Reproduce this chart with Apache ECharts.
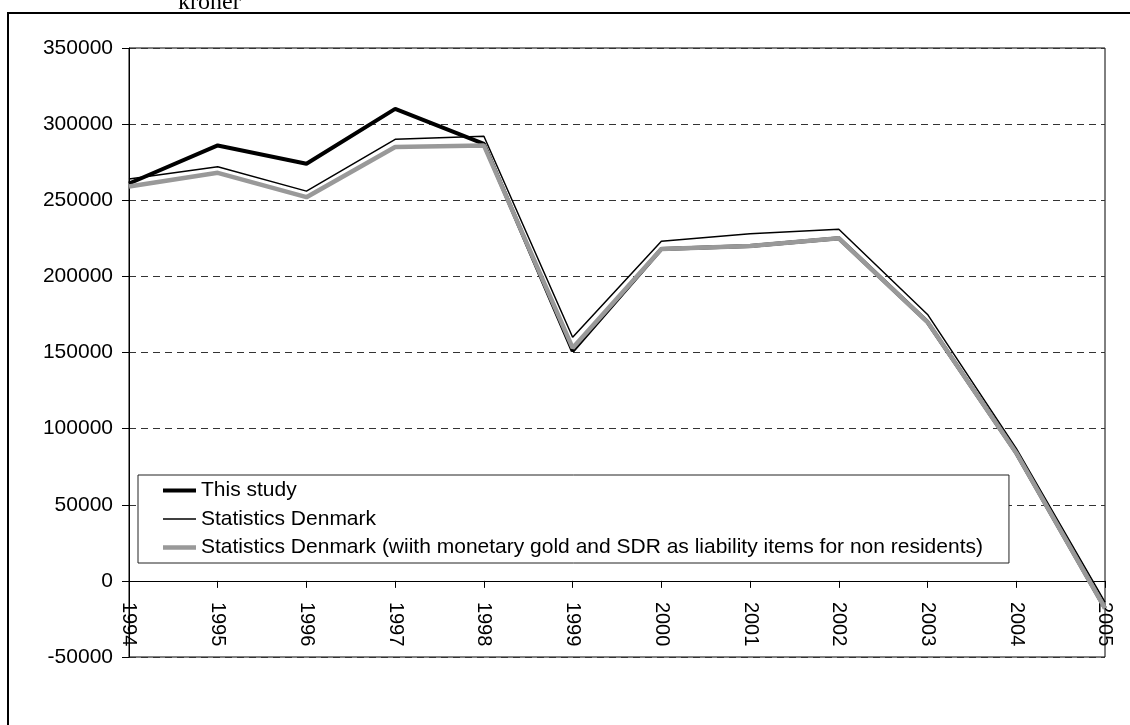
<!DOCTYPE html>
<html>
<head>
<meta charset="utf-8">
<script src="https://cdn.jsdelivr.net/npm/echarts@6/dist/echarts.min.js"></script>
<style>
html,body{margin:0;padding:0;background:#fff;}
#chart{width:1130px;height:725px;}
</style>
</head>
<body>
<div id="chart"></div>
<script>
const years = ['1994','1995','1996','1997','1998','1999','2000','2001','2002','2003','2004','2005'];
const thisStudy = [261000, 286000, 274000, 310000, 287000, 151000, 218000, 220000, 225000, 170000, 84000, -18000];
const statDenmark = [264000, 272000, 256000, 290000, 292000, 160000, 223000, 228000, 231000, 175000, 87000, -14000];
const statDenmarkGold = [259000, 268000, 252000, 285000, 286000, 153000, 218000, 220000, 225000, 170000, 84000, -18000];
const seriesNames = ['This study', 'Statistics Denmark', 'Statistics Denmark (wiith monetary gold and SDR as liability items for non residents)'];
const yTicks = {min: -50000, max: 350000, interval: 50000};

const font = 'Liberation Sans, Arial, sans-serif';
const gridTop = 48, gridBottom = 68, chartH = 725;
const plotH = chartH - gridTop - gridBottom;
const zeroOffset = plotH * (0 - yTicks.min) / (yTicks.max - yTicks.min);

const chart = echarts.init(document.getElementById('chart'), null, {renderer: 'canvas'});
chart.setOption({
  animation: false,
  backgroundColor: '#fff',
  graphic: [
    {type: 'rect', shape: {x: 8, y: 13, width: 1300, height: 900}, style: {fill: 'none', stroke: '#000', lineWidth: 2}, z: 100},
    {type: 'text', left: 178, top: -9, style: {text: 'kroner', font: '24px "Liberation Serif", "Times New Roman", serif', fill: '#000'}, z: 100}
  ],
  grid: {left: 129, top: gridTop, right: 25, bottom: gridBottom, show: true, borderColor: '#000', borderWidth: 1, containLabel: false},
  legend: {
    orient: 'vertical', left: 138, top: 475,
    backgroundColor: '#fff', borderColor: '#222', borderWidth: 1,
    padding: [5, 26, 5, 25],
    itemWidth: 33, itemHeight: 21, itemGap: 7.5,
    symbolKeepAspect: true,
    textStyle: {fontSize: 21, fontFamily: font, color: '#000'},
    data: [
      {name: seriesNames[0], icon: 'path://M0,0H33V4H0Z', itemStyle: {color: '#000'}},
      {name: seriesNames[1], icon: 'path://M0,0H33V1.5H0Z', itemStyle: {color: '#000'}},
      {name: seriesNames[2], icon: 'path://M0,0H33V4.5H0Z', itemStyle: {color: '#999'}}
    ]
  },
  xAxis: {
    type: 'category', data: years, boundaryGap: false,
    offset: -zeroOffset,
    axisLine: {onZero: false, lineStyle: {color: '#000', width: 1}},
    axisTick: {show: true, length: 7, alignWithLabel: true, lineStyle: {color: '#000'}},
    axisLabel: {rotate: -90, margin: 21, fontSize: 20, fontFamily: font, color: '#000', interval: 0},
    splitLine: {show: false}
  },
  yAxis: {
    type: 'value', min: yTicks.min, max: yTicks.max, interval: yTicks.interval,
    axisLine: {show: true, lineStyle: {color: '#000', width: 1}},
    axisTick: {show: true, length: 7, lineStyle: {color: '#000'}},
    axisLabel: {margin: 16, fontSize: 21, fontFamily: font, color: '#000', formatter: v => String(v)},
    splitLine: {show: true, lineStyle: {color: '#333', type: [7, 5], width: 1}}
  },
  series: [
    {name: seriesNames[0], type: 'line', data: thisStudy, symbol: 'none', lineStyle: {color: '#000', width: 4}, itemStyle: {color: '#000'}},
    {name: seriesNames[1], type: 'line', data: statDenmark, symbol: 'none', lineStyle: {color: '#000', width: 1.5}, itemStyle: {color: '#000'}},
    {name: seriesNames[2], type: 'line', data: statDenmarkGold, symbol: 'none', lineStyle: {color: '#999', width: 4.5}, itemStyle: {color: '#999'}}
  ]
});
</script>
</body>
</html>
